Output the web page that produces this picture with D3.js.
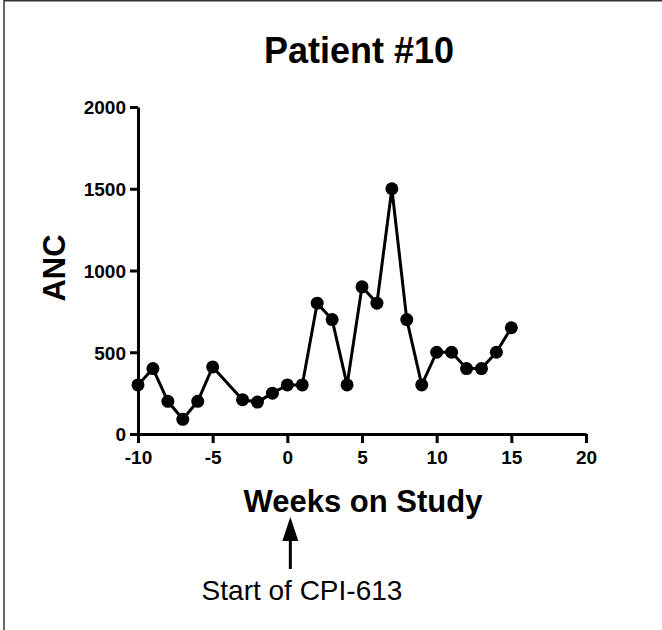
<!DOCTYPE html>
<html>
<head>
<meta charset="utf-8">
<script src="https://cdn.jsdelivr.net/npm/d3@7"></script>
<style>
  html,body{margin:0;padding:0;background:#fff;}
  svg{display:block;font-family:"Liberation Sans",Arial,sans-serif;}
</style>
</head>
<body>
<svg id="chart" width="662" height="630"></svg>
<script>
// data
const weeks = [-10,-9,-8,-7,-6,-5,-3,-2,-1,0,1,2,3,4,5,6,7,8,9,10,11,12,13,14,15];
const anc   = [300,400,200,90,200,410,210,195,250,300,300,800,700,300,900,800,1500,700,300,500,500,400,400,500,650];
const xTicks = [-10,-5,0,5,10,15,20];
const yTicks = [0,500,1000,1500,2000];

const svg = d3.select("#chart");

// frame lines on top and left edge
svg.append("line").attr("x1",4).attr("y1",0).attr("x2",4).attr("y2",630)
  .attr("stroke","#333").attr("stroke-width",1.5);
svg.append("line").attr("x1",4).attr("y1",0.75).attr("x2",662).attr("y2",0.75)
  .attr("stroke","#333").attr("stroke-width",1.5);

const x = d3.scaleLinear().domain([-10,20]).range([138,586]);
const y = d3.scaleLinear().domain([0,2000]).range([434,107]);

const plain = d=>String(d);

const xAxis = svg.append("g").attr("transform","translate(0,434)")
  .call(d3.axisBottom(x).tickValues(xTicks).tickFormat(plain)
    .tickSize(9).tickPadding(6).tickSizeOuter(0));
const yAxis = svg.append("g").attr("transform","translate(138,0)")
  .call(d3.axisLeft(y).tickValues(yTicks).tickFormat(plain)
    .tickSize(8).tickPadding(4).tickSizeOuter(0));

[xAxis,yAxis].forEach(a=>{
  a.select(".domain").attr("stroke","#000").attr("stroke-width",3);
  a.selectAll(".tick line").attr("stroke","#000").attr("stroke-width",3);
  a.selectAll(".tick text").attr("fill","#000")
    .style("font-size","19px").style("font-weight","bold")
    .style("font-family","'Liberation Sans',Arial,sans-serif");
});
xAxis.selectAll(".tick text").attr("dy","0.8em");
yAxis.selectAll(".tick text").attr("dy","0.36em");

const pts = weeks.map((w,i)=>({w,v:anc[i]}));

svg.append("path").datum(pts)
  .attr("fill","none").attr("stroke","#000").attr("stroke-width",3)
  .attr("stroke-linejoin","round")
  .attr("d",d3.line().x(d=>x(d.w)).y(d=>y(d.v)));

svg.append("g").selectAll("circle").data(pts).enter().append("circle")
  .attr("cx",d=>x(d.w)).attr("cy",d=>y(d.v)).attr("r",6.5).attr("fill","#000");

// titles
svg.append("text").attr("x",359).attr("y",63).attr("text-anchor","middle")
  .style("font-size","36px").style("font-weight","bold").text("Patient #10");

svg.append("text").attr("transform","translate(65,268) rotate(-90)")
  .attr("text-anchor","middle")
  .style("font-size","31px").style("font-weight","bold").text("ANC");

svg.append("text").attr("x",363).attr("y",512).attr("text-anchor","middle")
  .style("font-size","31px").style("font-weight","bold").text("Weeks on Study");

// arrow pointing to week 0
const ax = x(0)+3;
svg.append("line").attr("x1",ax).attr("x2",ax).attr("y1",536).attr("y2",569)
  .attr("stroke","#000").attr("stroke-width",3);
svg.append("path")
  .attr("d",`M${ax},517 L${ax-8},541 L${ax+8},541 Z`).attr("fill","#000");

svg.append("text").attr("x",302).attr("y",600).attr("text-anchor","middle")
  .style("font-size","28px").text("Start of CPI-613");
</script>
</body>
</html>
